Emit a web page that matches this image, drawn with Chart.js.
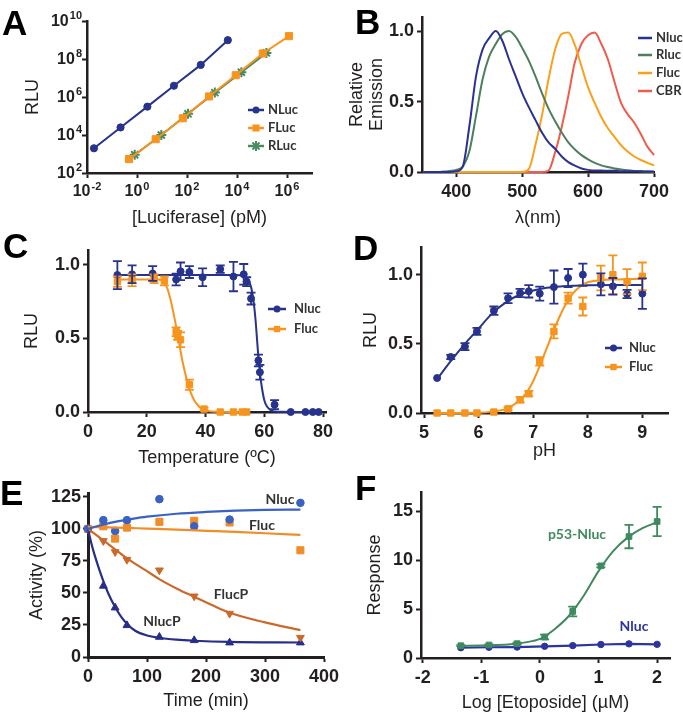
<!DOCTYPE html>
<html>
<head>
<meta charset="utf-8">
<script src="https://cdn.jsdelivr.net/npm/chart.js@4.4.1/dist/chart.umd.min.js"></script>
<style>
  body { margin: 0; background: #fff; width: 683px; height: 716px; overflow: hidden; position: relative; }
  canvas { position: absolute; left: 0; top: 0; }
</style>
</head>
<body>
<canvas id="pA" width="683" height="716"></canvas>
<canvas id="pB" width="683" height="716"></canvas>
<canvas id="pC" width="683" height="716"></canvas>
<canvas id="pD" width="683" height="716"></canvas>
<canvas id="pE" width="683" height="716"></canvas>
<canvas id="pF" width="683" height="716"></canvas>
<script>
// ---- A: luciferase titration (log-log)
const aNames = ['NLuc', 'FLuc', 'RLuc'];
const aNlucX = [0.019, 0.22, 2.6, 30, 355, 4300];
const aNlucY = [2.0e3, 2.5e4, 3.1e5, 3.9e6, 4.9e7, 9.8e8];
const aFlucX = [0.48, 5.6, 68, 760, 8900, 1.07e5, 1.2e6];
const aFlucY = [540, 6.0e3, 7.6e4, 1.07e6, 1.4e7, 1.95e8, 1.6e9];
const aRlucX = [0.81, 9.4, 110, 1300, 1.5e4, 1.5e5];
const aRlucY = [910, 1.0e4, 1.3e5, 1.7e6, 2.0e7, 2.1e8];
const aTicksX = [1e-2, 1, 1e2, 1e4, 1e6];
const aTicksY = [1e2, 1e4, 1e6, 1e8, 1e10];

// ---- B: emission spectra
const bNames = ['Nluc', 'Rluc', 'Fluc', 'CBR'];
const bWave = [350, 360, 370, 380, 390, 400, 410, 420, 430, 440, 450, 460, 470, 480, 490, 500, 510, 520,
  530, 540, 550, 560, 570, 580, 590, 600, 610, 620, 630, 640, 650, 660, 670, 680, 690, 700];
const bNluc = [0, 0, 0, 0, 0, 0.005, 0.04, 0.33, 0.68, 0.87, 0.95, 1.0, 0.93, 0.8, 0.68, 0.56, 0.46, 0.37,
  0.28, 0.21, 0.165, 0.11, 0.07, 0.045, 0.025, 0.015, 0.01, 0.01, 0.008, 0.008, 0.005, 0.005, 0.005, 0.005, 0.003, 0.003];
const bRluc = [0, 0, 0, 0.003, 0.008, 0.015, 0.04, 0.15, 0.4, 0.66, 0.82, 0.91, 0.98, 1.0, 0.96, 0.88, 0.79, 0.68,
  0.56, 0.45, 0.36, 0.28, 0.21, 0.16, 0.12, 0.09, 0.065, 0.047, 0.035, 0.025, 0.018, 0.012, 0.008, 0.005, 0.003, 0];
const bFluc = [0, 0, 0, 0, 0, 0, 0, 0, 0, 0, 0, 0, 0, 0, 0, 0, 0.02, 0.19,
  0.4, 0.66, 0.87, 0.98, 0.99, 0.9, 0.75, 0.6, 0.49, 0.39, 0.31, 0.25, 0.19, 0.145, 0.11, 0.085, 0.065, 0.047];
const bCbr = [0, 0, 0, 0, 0, 0, 0, 0, 0, 0, 0, 0, 0, 0, 0, 0, 0, 0,
  0, 0.01, 0.14, 0.32, 0.54, 0.78, 0.91, 0.97, 0.99, 0.91, 0.8, 0.64, 0.49, 0.41, 0.35, 0.27, 0.18, 0.12];
const bTicksX = [400, 500, 600, 700];
const bTicksY = [0, 0.5, 1];

// ---- C: thermal stability
const cNames = ['Nluc', 'Fluc'];
const cNlucX = [10, 15, 22, 30, 31.5, 34.5, 39, 45, 49.5, 53, 54, 55.5, 58, 58.5, 63.5, 69, 74, 76.5, 78.5];
const cNlucY = [0.93, 0.935, 0.94, 0.9, 0.955, 0.95, 0.915, 0.97, 0.92, 0.935, 0.885, 0.77, 0.35, 0.27, 0.05, 0, 0, 0, 0];
const cNlucErr = [0.095, 0.06, 0.05, 0.04, 0.06, 0.04, 0.06, 0.025, 0.1, 0.07, 0.03, 0.04, 0.04, 0.05, 0.03, 0, 0, 0, 0];
const cFlucX = [10, 15, 22.5, 26, 30, 30.5, 31.5, 34.5, 39.5, 45, 49.5, 52.5, 54];
const cFlucY = [0.885, 0.895, 0.905, 0.89, 0.545, 0.52, 0.49, 0.185, 0.02, 0, 0, 0, 0];
const cFlucErr = [0.035, 0.04, 0.03, 0.03, 0.03, 0.03, 0.05, 0.035, 0.01, 0, 0, 0, 0];
const cNlucFitX = [10, 50, 53, 54, 55, 56, 57, 57.5, 58, 58.5, 59, 60, 61, 62, 63, 64, 66, 70, 79];
const cNlucFitY = [0.93, 0.93, 0.925, 0.91, 0.88, 0.8, 0.63, 0.5, 0.37, 0.27, 0.19, 0.08, 0.035, 0.015, 0.006, 0.003, 0.001, 0, 0];
const cFlucFitX = [10, 24, 25, 26, 27, 28, 29, 30, 31, 32, 33, 34, 35, 36, 37, 38, 40, 42, 54];
const cFlucFitY = [0.9, 0.9, 0.895, 0.88, 0.84, 0.77, 0.68, 0.58, 0.47, 0.36, 0.27, 0.19, 0.13, 0.085, 0.055, 0.033, 0.012, 0.004, 0];
const cTicksX = [0, 20, 40, 60, 80];
const cTicksY = [0, 0.5, 1];

// ---- D: pH stability
const dNames = ['Nluc', 'Fluc'];
const dPH = [5.24, 5.49, 5.75, 5.97, 6.28, 6.54, 6.76, 6.92, 7.12, 7.38, 7.64, 7.91, 8.24, 8.46, 8.72, 9.0];
const dNlucY = [0.253, 0.405, 0.48, 0.59, 0.74, 0.83, 0.867, 0.88, 0.863, 0.91, 0.976, 1.0, 0.93, 0.916, 0.86, 0.863];
const dNlucErr = [0, 0.015, 0.025, 0.025, 0.03, 0.035, 0.03, 0.045, 0.05, 0.12, 0.065, 0.08, 0.08, 0.06, 0.03, 0.11];
const dFlucY = [0, 0, 0, 0, 0.007, 0.03, 0.096, 0.14, 0.373, 0.59, 0.83, 0.77, 0.976, 1.0, 0.95, 0.988];
const dFlucErr = [0, 0, 0, 0, 0, 0.01, 0.02, 0.02, 0.03, 0.05, 0.04, 0.065, 0.09, 0.14, 0.09, 0.1];
const dNlucFitX = [5.25, 5.5, 5.75, 6.0, 6.25, 6.5, 6.75, 7.0, 7.25, 7.5, 7.75, 8.0, 8.5, 9.0];
const dNlucFitY = [0.25, 0.38, 0.5, 0.61, 0.72, 0.8, 0.855, 0.885, 0.905, 0.915, 0.92, 0.923, 0.925, 0.925];
const dFlucFitX = [5.25, 6.0, 6.25, 6.5, 6.75, 6.9, 7.0, 7.1, 7.2, 7.3, 7.4, 7.5, 7.6, 7.7, 7.8, 7.9, 8.0, 8.25, 8.5, 9.0];
const dFlucFitY = [0, 0.002, 0.01, 0.03, 0.09, 0.16, 0.23, 0.32, 0.42, 0.52, 0.62, 0.71, 0.79, 0.85, 0.895, 0.925, 0.945, 0.96, 0.965, 0.97];
const dTicksX = [5, 6, 7, 8, 9];
const dTicksY = [0, 0.5, 1];

// ---- E: activity over time
const eNames = ['Nluc', 'Fluc', 'FlucP', 'NlucP'];
const eTime = [0, 26, 46, 66, 121, 180, 240, 360];
const eNluc = [100, 106.8, 98.4, 106.8, 123.2, 102, 107.3, 120.3];
const eFluc = [100, 102, 92.4, 101, 105.5, 106.3, 105, 83.3];
const eFlucP = [100, 90.6, 82, 76, 67.7, 47.4, 33.9, 15.1];
const eNlucP = [100, 55.5, 38.5, 24.7, 15.6, 13, 11.2, 11.2];
const eNlucFitX = [0, 25, 50, 75, 100, 150, 200, 250, 300, 360];
const eNlucFitY = [100, 103.2, 105.8, 107.8, 109.5, 111.8, 113.2, 114.2, 114.8, 115.1];
const eFlucFitX = [0, 50, 100, 150, 200, 250, 300, 360];
const eFlucFitY = [101.5, 101, 100.2, 99.4, 98.5, 97.6, 96.6, 95.3];
const eFlucPFitX = [0, 26, 46, 66, 100, 120, 150, 180, 210, 240, 300, 360];
const eFlucPFitY = [100, 91, 84, 77, 67, 61, 53.5, 47, 40.5, 34.5, 27, 21];
const eNlucPFitX = [0, 5, 10, 15, 20, 27, 35, 46, 56, 66, 80, 100, 120, 150, 180, 240, 360];
const eNlucPFitY = [100, 90, 81.5, 74, 67, 58, 49, 39, 31.5, 26, 20.5, 16.8, 15, 13.5, 12.7, 11.8, 11.3];
const eTicksX = [0, 100, 200, 300, 400];
const eTicksY = [0, 25, 50, 75, 100, 125];

// ---- F: etoposide response
const fNames = ['p53-Nluc', 'Nluc'];
const fLogC = [-1.35, -0.87, -0.39, 0.08, 0.56, 1.04, 1.52, 2.0];
const fP53 = [1.26, 1.33, 1.47, 2.15, 4.77, 9.44, 12.44, 13.98];
const fP53Err = [0.05, 0.05, 0.1, 0.25, 0.5, 0.15, 1.2, 1.5];
const fNluc = [1.05, 1.1, 1.12, 1.2, 1.27, 1.38, 1.45, 1.4];
const fP53FitX = [-1.35, -1.0, -0.75, -0.5, -0.25, 0, 0.25, 0.5, 0.75, 1.0, 1.25, 1.5, 1.75, 2.0];
const fP53FitY = [1.24, 1.28, 1.33, 1.42, 1.6, 1.95, 2.95, 4.35, 6.4, 8.9, 10.95, 12.35, 13.3, 13.9];
const fTicksX = [-2, -1, 0, 1, 2];
const fTicksY = [0, 5, 10, 15];

const AXIS = '#231f20';
const SANS = '"Liberation Sans", Arial, sans-serif';
const LABEL = 'Lato, "Liberation Sans", sans-serif';
const NAVY = '#27338c';
const ORANGE = '#f7941d';
const GREEN = '#4c8a60';

const pts = (xs, ys) => xs.map((x, i) => ({ x: x, y: ys[i] }));

function curve(xs, ys, color, w) {
  return { data: pts(xs, ys), showLine: true, borderColor: color, backgroundColor: color,
    borderWidth: w || 2, pointRadius: 0, cubicInterpolationMode: 'monotone', clip: false };
}

function dots(xs, ys, color, style, r, errs, rot) {
  return { data: pts(xs, ys), showLine: false, borderColor: color, backgroundColor: color,
    pointStyle: style, pointRadius: r, pointBorderWidth: 1, pointRotation: rot || 0,
    errors: errs, clip: false };
}

function axis(o, pos) {
  return {
    type: o.type || 'linear', position: pos, min: o.min, max: o.max,
    afterBuildTicks: s => { s.ticks = o.ticks.map(v => ({ value: v })); },
    afterFit: s => { if (pos === 'left') s.width = o.size; else s.height = o.size; },
    border: { display: true, color: AXIS, width: o.bw || 2.5 },
    grid: { drawOnChartArea: false, drawTicks: true, tickLength: 5, tickWidth: 2, tickColor: AXIS, color: AXIS },
    ticks: { autoSkip: false, maxRotation: 0, padding: o.pad === undefined ? 3 : o.pad, color: AXIS,
      font: { family: SANS, size: o.fs || 18, weight: 'bold' }, callback: o.fmt || (v => String(v)) },
    title: { display: true, text: o.title, color: AXIS, padding: 0,
      font: { family: SANS, size: 18, lineHeight: 1.1 } }
  };
}

const oneDec = v => v.toFixed(1);

// error bars drawn through the chart's scales
const errorBars = {
  id: 'errorBars',
  afterDatasetsDraw(chart) {
    const ctx = chart.ctx;
    const xs = chart.scales.x, ys = chart.scales.y;
    chart.data.datasets.forEach(ds => {
      if (!ds.errors) return;
      ctx.save();
      ctx.strokeStyle = ds.borderColor;
      ctx.lineWidth = 1.8;
      ds.data.forEach((p, j) => {
        const e = ds.errors[j];
        if (!e) return;
        const px = xs.getPixelForValue(p.x);
        const t = ys.getPixelForValue(p.y + e), b = ys.getPixelForValue(p.y - e);
        ctx.beginPath();
        ctx.moveTo(px, t); ctx.lineTo(px, b);
        ctx.moveTo(px - 4.5, t); ctx.lineTo(px + 4.5, t);
        ctx.moveTo(px - 4.5, b); ctx.lineTo(px + 4.5, b);
        ctx.stroke();
      });
      ctx.restore();
    });
  }
};

function marker(ctx, style, x, y, r, color) {
  ctx.save();
  ctx.translate(x, y);
  ctx.fillStyle = color; ctx.strokeStyle = color;
  ctx.beginPath();
  if (style === 'rect') {
    const s = r * Math.SQRT1_2;
    ctx.rect(-s, -s, 2 * s, 2 * s); ctx.fill();
  } else if (style === 'star') {
    for (let k = 0; k < 4; k++) {
      const a = k * Math.PI / 4;
      ctx.moveTo(-r * Math.cos(a), -r * Math.sin(a)); ctx.lineTo(r * Math.cos(a), r * Math.sin(a));
    }
    ctx.lineWidth = 2; ctx.stroke();
  } else {
    ctx.arc(0, 0, r, 0, 2 * Math.PI); ctx.fill();
  }
  ctx.restore();
}

// panel letter, legend and free labels
function decor(d) {
  return {
    id: 'decor',
    afterDraw(chart) {
      const ctx = chart.ctx;
      ctx.save();
      ctx.fillStyle = '#000';
      ctx.font = 'bold 35px ' + SANS;
      ctx.textAlign = 'left'; ctx.textBaseline = 'alphabetic';
      ctx.fillText(d.letter[0], d.letter[1], d.letter[2]);
      if (d.legend) {
        const L = d.legend;
        L.items.forEach(it => {
          ctx.strokeStyle = it.color; ctx.lineWidth = 2.5;
          ctx.beginPath(); ctx.moveTo(L.x1, it.y); ctx.lineTo(L.x2, it.y); ctx.stroke();
          if (it.style) marker(ctx, it.style, (L.x1 + L.x2) / 2, it.y, it.r || 3.5, it.color);
          ctx.fillStyle = '#333';
          ctx.font = 'bold 13px ' + LABEL;
          ctx.textAlign = 'left'; ctx.textBaseline = 'middle';
          ctx.fillText(it.label, L.tx, it.y);
        });
      }
      (d.labels || []).forEach(l => {
        ctx.fillStyle = l.color || '#333';
        ctx.font = 'bold 14px ' + LABEL;
        ctx.textAlign = 'center'; ctx.textBaseline = 'middle';
        ctx.fillText(l.text, l.x, l.y);
      });
      ctx.restore();
    }
  };
}

// power-of-ten tick labels for panel A
const logLabels = {
  id: 'logLabels',
  afterDraw(chart) {
    const { ctx, scales: { x, y }, chartArea } = chart;
    const base = 'bold 16px ' + SANS, sup = 'bold 11px ' + SANS;
    ctx.save();
    ctx.fillStyle = AXIS; ctx.textBaseline = 'middle';
    y.ticks.forEach(t => {
      const py = y.getPixelForValue(t.value);
      const e = String(Math.round(Math.log10(t.value)));
      ctx.font = sup; const ew = ctx.measureText(e).width;
      const right = chartArea.left - 5;
      ctx.textAlign = 'right';
      ctx.fillText(e, right, py - 5);
      ctx.font = base; ctx.fillText('10', right - ew - 1, py + 1);
    });
    x.ticks.forEach(t => {
      const px = x.getPixelForValue(t.value);
      const e = String(Math.round(Math.log10(t.value)));
      ctx.font = base; const bw = ctx.measureText('10').width;
      ctx.font = sup; const ew = ctx.measureText(e).width;
      const start = px - (bw + ew + 1) / 2, py = chartArea.bottom + 19;
      ctx.textAlign = 'left';
      ctx.font = base; ctx.fillText('10', start, py);
      ctx.font = sup; ctx.fillText(e, start + bw + 1, py - 5);
    });
    ctx.restore();
  }
};

function panel(id, cfg) {
  return new Chart(document.getElementById(id), {
    type: 'scatter',
    data: { datasets: cfg.datasets },
    options: {
      responsive: false, animation: false, events: [],
      layout: { padding: cfg.pad },
      plugins: { legend: { display: false }, tooltip: { enabled: false } },
      scales: { x: axis(cfg.x, 'bottom'), y: axis(cfg.y, 'left') }
    },
    plugins: [errorBars, decor(cfg.decor)].concat(cfg.extra || [])
  });
}

// A
panel('pA', {
  pad: { left: 23, top: 21, right: 371, bottom: 488 },
  x: { type: 'logarithmic', min: 1e-2, max: 1e7, ticks: aTicksX, size: 55, fmt: () => '', title: '[Luciferase] (pM)' },
  y: { type: 'logarithmic', min: 1e2, max: 1e10, ticks: aTicksY, size: 64, fmt: () => '', title: 'RLU' },
  datasets: [
    Object.assign(dots(aNlucX, aNlucY, NAVY, 'circle', 3.6), { showLine: true, borderWidth: 2 }),
    Object.assign(dots(aFlucX, aFlucY, ORANGE, 'rect', 5), { showLine: true, borderWidth: 2 }),
    Object.assign(dots(aRlucX, aRlucY, GREEN, 'star', 5), { showLine: true, borderWidth: 2, pointBorderWidth: 2 })
  ],
  decor: {
    letter: ['A', 2, 35],
    legend: { x1: 248, x2: 264, tx: 268, items: [
      { label: aNames[0], color: NAVY, style: 'circle', y: 110 },
      { label: aNames[1], color: ORANGE, style: 'rect', r: 5, y: 128 },
      { label: aNames[2], color: GREEN, style: 'star', r: 5, y: 146 }
    ] }
  },
  extra: [logLabels]
});

// B
const bColors = ['#2b3192', '#4d7f5c', '#f9a11b', '#ef5b4c'];
panel('pB', {
  pad: { left: 347, top: 17, right: 29, bottom: 488 },
  x: { min: 348, max: 700, ticks: bTicksX, size: 56, pad: 4, title: 'λ(nm)' },
  y: { min: 0, max: 1.1, ticks: bTicksY, size: 75, fmt: oneDec, title: ['Relative', 'Emission'] },
  datasets: [
    curve(bWave, bNluc, bColors[0]),
    curve(bWave, bRluc, bColors[1]),
    curve(bWave, bFluc, bColors[2]),
    curve(bWave, bCbr, bColors[3])
  ],
  decor: {
    letter: ['B', 355, 34],
    legend: { x1: 638, x2: 652, tx: 656, items: bNames.map((n, i) => ({ label: n, color: bColors[i], y: [38, 55, 73, 91][i] })) }
  }
});

// C
panel('pC', {
  pad: { left: 22, top: 250, right: 357, bottom: 248 },
  x: { min: 0, max: 81, ticks: cTicksX, size: 56, pad: 4, title: 'Temperature (ºC)' },
  y: { min: 0, max: 1.1, ticks: cTicksY, size: 66, fmt: oneDec, title: 'RLU' },
  datasets: [
    curve(cFlucFitX, cFlucFitY, ORANGE),
    dots(cFlucX, cFlucY, ORANGE, 'rect', 4.5, cFlucErr),
    curve(cNlucFitX, cNlucFitY, NAVY),
    dots(cNlucX, cNlucY, NAVY, 'circle', 3.5, cNlucErr)
  ],
  decor: {
    letter: ['C', 3, 258],
    legend: { x1: 268, x2: 286, tx: 294, items: [
      { label: cNames[0], color: NAVY, style: 'circle', y: 309 },
      { label: cNames[1], color: ORANGE, style: 'rect', r: 4.5, y: 329 }
    ] }
  }
});

// D
panel('pD', {
  pad: { left: 361, top: 247, right: 15, bottom: 255 },
  x: { min: 4.945, max: 9.47, ticks: dTicksX, size: 48, pad: 4, title: 'pH' },
  y: { min: 0, max: 1.2, ticks: dTicksY, size: 60, fmt: oneDec, title: 'RLU' },
  datasets: [
    curve(dFlucFitX, dFlucFitY, ORANGE),
    dots(dPH, dFlucY, ORANGE, 'rect', 4.5, dFlucErr),
    curve(dNlucFitX, dNlucFitY, NAVY),
    dots(dPH, dNlucY, NAVY, 'circle', 3.5, dNlucErr)
  ],
  decor: {
    letter: ['D', 353, 260],
    legend: { x1: 605, x2: 622, tx: 629, items: [
      { label: dNames[0], color: NAVY, style: 'circle', y: 348 },
      { label: dNames[1], color: ORANGE, style: 'rect', r: 4.5, y: 367 }
    ] }
  }
});

// E
const eColors = ['#3a62c2', '#f28c28', '#cc682a', '#262e88'];
panel('pE', {
  pad: { left: 27, top: 493, right: 359, bottom: 5 },
  x: { min: 0, max: 400, ticks: eTicksX, size: 54, pad: 4, bw: 3, title: 'Time (min)' },
  y: { min: 0, max: 128, ticks: eTicksY, size: 61, pad: 2, bw: 3, title: 'Activity (%)' },
  datasets: [
    curve(eNlucFitX, eNlucFitY, eColors[0], 2.2),
    curve(eFlucFitX, eFlucFitY, eColors[1], 2.2),
    curve(eFlucPFitX, eFlucPFitY, eColors[2], 2.2),
    curve(eNlucPFitX, eNlucPFitY, eColors[3], 2.2),
    dots(eTime, eNluc, eColors[0], 'circle', 3.8),
    dots(eTime, eFluc, eColors[1], 'rect', 5),
    dots(eTime, eFlucP, eColors[2], 'triangle', 4.5, null, 180),
    dots(eTime, eNlucP, eColors[3], 'triangle', 4.5)
  ],
  decor: {
    letter: ['E', 0, 505],
    labels: [
      { text: eNames[0], x: 280, y: 499 },
      { text: eNames[1], x: 262, y: 525 },
      { text: eNames[2], x: 231, y: 594 },
      { text: eNames[3], x: 162, y: 621 }
    ]
  }
});

// F
const fGreen = '#3f8a5e', fBlue = '#2d34a0';
panel('pF', {
  pad: { left: 365, top: 492, right: 13, bottom: 3 },
  x: { min: -2.03, max: 2.22, ticks: fTicksX, size: 55, pad: 4, title: 'Log [Etoposide] (µM)' },
  y: { min: 0, max: 17, ticks: fTicksY, size: 56, title: 'Response' },
  datasets: [
    curve(fP53FitX, fP53FitY, fGreen),
    dots(fLogC, fP53, fGreen, 'rect', 4, fP53Err),
    Object.assign(dots(fLogC, fNluc, fBlue, 'circle', 3.2), { showLine: true, borderWidth: 2.2 })
  ],
  decor: {
    letter: ['F', 355, 500],
    labels: [
      { text: fNames[0], x: 577, y: 534, color: fGreen },
      { text: fNames[1], x: 634, y: 626, color: fBlue }
    ]
  }
});
</script>
</body>
</html>
